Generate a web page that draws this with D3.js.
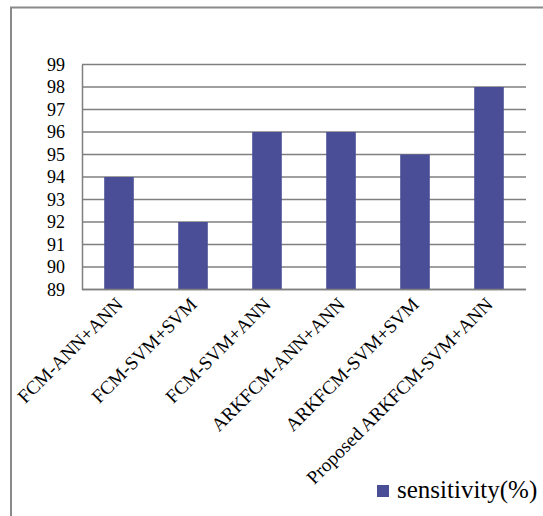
<!DOCTYPE html>
<html>
<head>
<meta charset="utf-8">
<script src="https://cdn.jsdelivr.net/npm/d3@7/dist/d3.min.js"></script>
<style>
  html, body { margin: 0; padding: 0; background: #fff; }
  svg { display: block; }
  svg text { font-family: "Liberation Serif", "Times New Roman", serif; }
</style>
</head>
<body>
<svg id="chart" width="543" height="516"></svg>
<script>
// Sensitivity of each segmentation + classification method
const categories = [
  "FCM-ANN+ANN",
  "FCM-SVM+SVM",
  "FCM-SVM+ANN",
  "ARKFCM-ANN+ANN",
  "ARKFCM-SVM+SVM",
  "Proposed ARKFCM-SVM+ANN"
];
const sensitivity = [94, 92, 96, 96, 95, 98];
const yTicks = [89, 90, 91, 92, 93, 94, 95, 96, 97, 98, 99];
const seriesName = "sensitivity(%)";

const barColor = "#4A4E97";
const gridColor = "#7f7f7f";
const serif = "'Liberation Serif', 'Times New Roman', serif";

const svg = d3.select("#chart");

// outer frame (left and top edges)
svg.append("path")
  .attr("d", "M11,516 L11,7.5 L543,7.5")
  .attr("fill", "none")
  .attr("stroke", "#8a8a8a")
  .attr("stroke-width", 2);

const plot = { left: 82, right: 526, top: 64.5, bottom: 289.5 };

const x = d3.scaleBand()
  .domain(categories)
  .range([plot.left, plot.right])
  .paddingInner(0.6)
  .paddingOuter(0.3);

const y = d3.scaleLinear()
  .domain([89, 99])
  .range([plot.bottom, plot.top]);

// horizontal gridlines
svg.append("g")
  .selectAll("line")
  .data(yTicks)
  .join("line")
  .attr("x1", plot.left)
  .attr("x2", plot.right)
  .attr("y1", d => y(d))
  .attr("y2", d => y(d))
  .attr("stroke", gridColor)
  .attr("stroke-width", 1.5);

// y axis with labels
const yAxis = svg.append("g")
  .attr("transform", `translate(${plot.left},0)`)
  .call(d3.axisLeft(y).tickValues(yTicks).tickSize(0).tickPadding(17).tickFormat(d3.format("d")));
yAxis.attr("font-family", null);
yAxis.select(".domain").attr("stroke", gridColor).attr("stroke-width", 1.5);
yAxis.selectAll("text")
  .style("font-family", serif)
  .style("font-size", "18px")
  .attr("fill", "#000");

// bars
svg.append("g")
  .selectAll("rect")
  .data(categories.map((c, i) => ({ c, v: sensitivity[i] })))
  .join("rect")
  .attr("x", d => x(d.c))
  .attr("width", x.bandwidth())
  .attr("y", d => y(d.v))
  .attr("height", d => y(89) - y(d.v))
  .attr("fill", barColor);

// baseline
svg.append("line")
  .attr("x1", plot.left).attr("x2", plot.right)
  .attr("y1", plot.bottom).attr("y2", plot.bottom)
  .attr("stroke", gridColor).attr("stroke-width", 1.5);

// rotated category labels
svg.append("g")
  .selectAll("text")
  .data(categories)
  .join("text")
  .attr("transform", d => `translate(${x(d) + x.bandwidth() / 2 + 5},${plot.bottom + 16}) rotate(-45)`)
  .attr("text-anchor", "end")
  .style("font-family", serif)
  .style("font-size", "19px")
  .attr("fill", "#000")
  .text(d => d);

// legend
const legend = svg.append("g").attr("transform", "translate(377,485)");
legend.append("rect")
  .attr("width", 12).attr("height", 12)
  .attr("fill", barColor);
legend.append("text")
  .attr("x", 20).attr("y", 13)
  .style("font-family", serif)
  .style("font-size", "25px")
  .attr("fill", "#000")
  .text(seriesName);
</script>
</body>
</html>
